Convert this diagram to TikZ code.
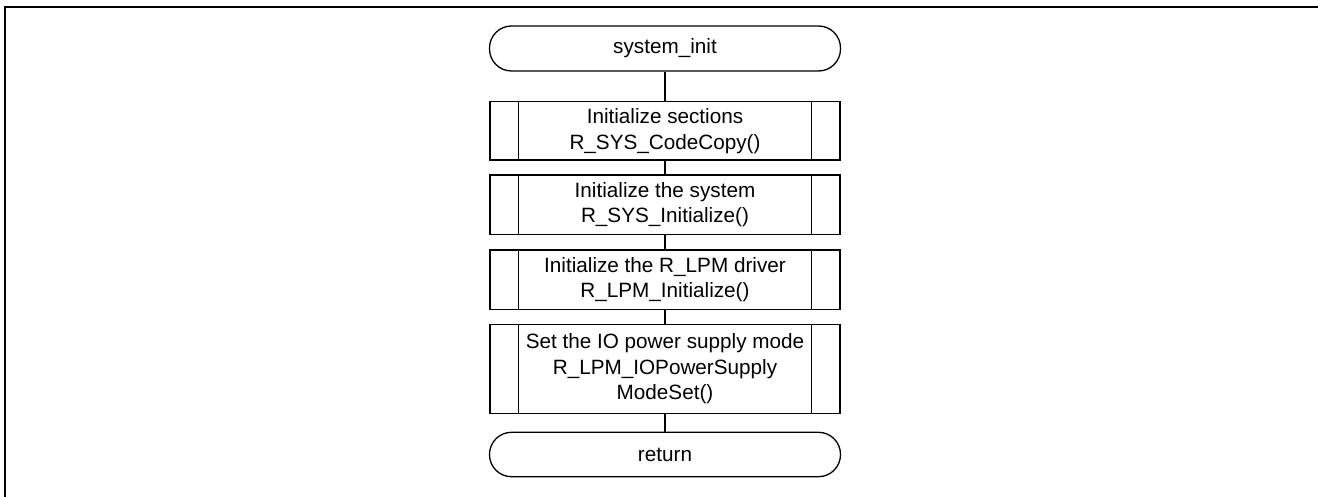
\documentclass[tikz,border=0pt]{standalone}
\usepackage{fontspec}
\setmainfont{Liberation Sans}
\begin{document}
\begin{tikzpicture}[x=1pt,y=-1pt,
  every node/.style={font=\fontsize{20.7}{25.7}\selectfont, align=center, inner sep=0pt},
  term/.style={draw, line width=1.3pt, rounded corners=22pt, minimum width=351pt, minimum height=45pt},
  proc/.style={draw, line width=1.3pt, minimum width=350pt},
  conn/.style={line width=1.3pt},
  frameline/.style={line width=2pt}]
\useasboundingbox (0,0) rectangle (1318,497);
\draw[frameline] (1320,7.5) -- (5,7.5) -- (5,499);
\node[term] (start) at (665,48.5) {system\_init};
\node[proc, minimum height=58.3pt] (b1) at (665,130.85) {Initialize sections\\R\_SYS\_CodeCopy()};
\node[proc, minimum height=59.3pt] (b2) at (665,204.65) {Initialize the system\\R\_SYS\_Initialize()};
\node[proc, minimum height=59.3pt] (b3) at (665,279.65) {Initialize the R\_LPM driver\\R\_LPM\_Initialize()};
\node[proc, minimum height=89pt] (b4) at (665,368.8) {Set the IO power supply mode\\R\_LPM\_IOPowerSupply\\ModeSet()};
\node[term, minimum height=44.4pt] (ret) at (665,454.5) {return};
\foreach \b in {b1,b2,b3,b4}{
  \draw[conn] ([xshift=29pt]\b.north west) -- ([xshift=29pt]\b.south west);
  \draw[conn] ([xshift=-29pt]\b.north east) -- ([xshift=-29pt]\b.south east);
}
\draw[conn] (start) -- (b1);
\draw[conn] (b1) -- (b2);
\draw[conn] (b2) -- (b3);
\draw[conn] (b3) -- (b4);
\draw[conn] (b4) -- (ret);
\end{tikzpicture}
\end{document}
